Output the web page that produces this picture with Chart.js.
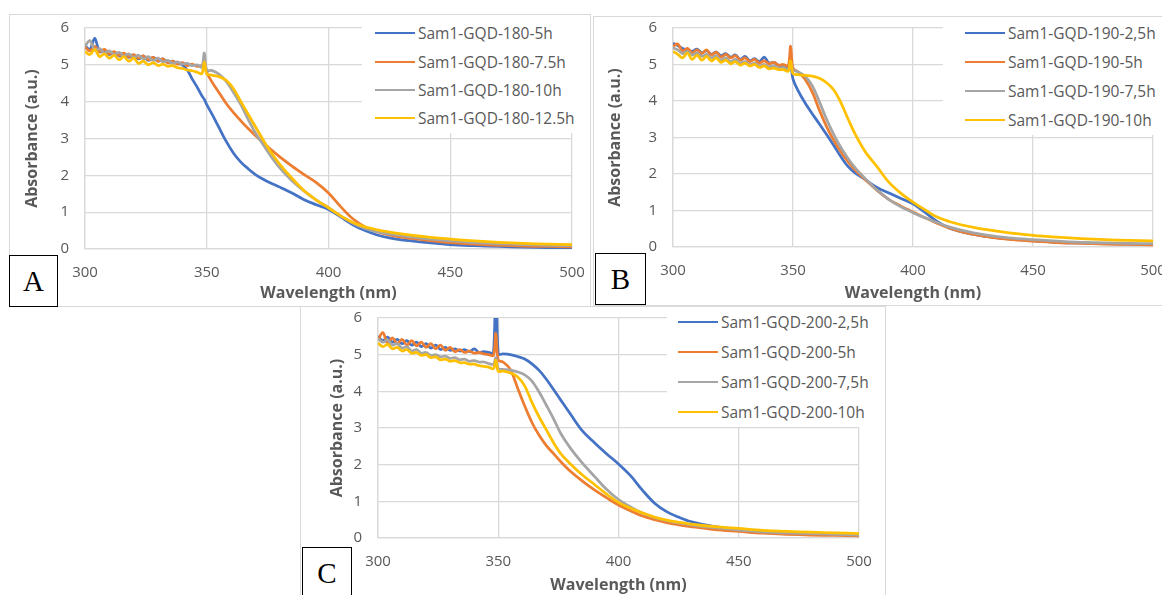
<!DOCTYPE html>
<html>
<head>
<meta charset="utf-8">
<script src="https://cdn.jsdelivr.net/npm/chart.js@4.4.1/dist/chart.umd.min.js"></script>
<style>
  body { margin: 0; background: #fff; width: 1162px; height: 595px; overflow: hidden; position: relative; font-family: "Open Sans", sans-serif; }
  .frame { position: absolute; border: 1px solid #d9d9d9; box-sizing: border-box; }
  canvas { position: absolute; }
  .legend { position: absolute; background: #fff; }
  .item { position: absolute; height: 20px; display: flex; align-items: center; color: #595959; font-size: 15.5px; white-space: nowrap; }
  .swatch { width: 40px; height: 2.75px; margin-right: 3px; }
  .tag { position: absolute; border: 1px solid #000; background: #fff; box-sizing: border-box; font-family: "Liberation Serif", serif; font-size: 29px; display: flex; align-items: center; justify-content: center; color: #000; }
</style>
</head>
<body>
<div class="frame" style="left:9px;top:14px;width:582px;height:293px"></div>
<div class="frame" style="left:593px;top:16px;width:575px;height:290px"></div>
<div class="frame" style="left:300px;top:306px;width:586px;height:300px"></div>
<canvas id="chartA" width="580" height="293" style="left:10px;top:14px"></canvas>
<canvas id="chartB" width="569" height="289" style="left:593px;top:16px"></canvas>
<canvas id="chartC" width="585" height="288" style="left:300px;top:307px"></canvas>
<script>
// wavelength grid (nm) shared by all spectra
const wavelengths = [300,302,304,306,308,310,312,314,316,318,320,322,324,326,328,330,332,334,336,338,340,342,344,346,348,
  349,350,352,355,358,361,364,367,370,373,376,380,385,390,395,400,405,410,415,420,425,430,440,450,460,470,480,490,500];
const wavelengthRange = [300, 500];
const absorbanceRange = [0, 6];

// panel A - 180 C
const namesA = ['Sam1-GQD-180-5h', 'Sam1-GQD-180-7.5h', 'Sam1-GQD-180-10h', 'Sam1-GQD-180-12.5h'];
const gqd180_5h = [5.52,5.42,5.72,5.35,5.38,5.28,5.34,5.24,5.30,5.20,5.26,5.16,5.24,5.12,5.20,5.10,5.16,5.06,5.10,5.04,5.00,4.86,4.62,4.40,4.16,
  4.06,3.92,3.68,3.30,2.92,2.60,2.36,2.18,2.02,1.90,1.80,1.68,1.52,1.34,1.20,1.07,0.87,0.66,0.50,0.38,0.30,0.25,0.18,0.12,0.09,0.07,0.05,0.04,0.03];
const gqd180_7_5h = [5.48,5.38,5.50,5.36,5.42,5.30,5.36,5.26,5.32,5.22,5.28,5.18,5.24,5.14,5.20,5.10,5.16,5.06,5.10,5.02,5.06,4.98,5.02,4.96,4.98,
  5.05,4.80,4.55,4.25,3.95,3.70,3.48,3.27,3.08,2.90,2.72,2.50,2.25,2.02,1.80,1.52,1.15,0.82,0.60,0.47,0.38,0.32,0.24,0.17,0.13,0.10,0.08,0.07,0.06];
const gqd180_10h = [5.50,5.66,5.40,5.44,5.32,5.38,5.28,5.34,5.24,5.30,5.20,5.26,5.16,5.22,5.12,5.18,5.08,5.12,5.04,5.08,5.02,5.04,4.98,5.00,4.94,
  5.32,4.85,4.85,4.75,4.55,4.25,3.92,3.52,3.15,2.85,2.55,2.20,1.85,1.57,1.33,1.12,0.90,0.70,0.56,0.47,0.41,0.36,0.28,0.22,0.17,0.14,0.12,0.10,0.09];
const gqd180_12_5h = [5.36,5.28,5.42,5.22,5.30,5.18,5.26,5.14,5.22,5.10,5.18,5.04,5.10,5.00,5.06,4.98,5.02,4.96,4.98,4.92,4.90,4.86,4.84,4.80,4.76,
  5.08,4.75,4.72,4.68,4.58,4.35,4.00,3.66,3.32,2.98,2.66,2.30,1.92,1.58,1.33,1.12,0.90,0.72,0.60,0.52,0.46,0.41,0.33,0.27,0.22,0.18,0.15,0.13,0.12];

// panel B - 190 C
const namesB = ['Sam1-GQD-190-2,5h', 'Sam1-GQD-190-5h', 'Sam1-GQD-190-7,5h', 'Sam1-GQD-190-10h'];
const gqd190_2_5h = [5.58,5.52,5.44,5.40,5.36,5.42,5.32,5.38,5.28,5.34,5.24,5.30,5.20,5.26,5.14,5.22,5.10,5.16,5.08,5.20,5.04,5.06,4.98,4.96,4.90,
  5.00,4.60,4.30,3.95,3.65,3.37,3.08,2.78,2.47,2.20,2.02,1.85,1.63,1.48,1.33,1.18,0.95,0.70,0.52,0.42,0.35,0.29,0.22,0.17,0.13,0.11,0.09,0.08,0.07];
const gqd190_5h = [5.50,5.56,5.36,5.44,5.32,5.40,5.30,5.40,5.26,5.34,5.20,5.28,5.18,5.24,5.12,5.18,5.08,5.14,5.04,5.10,5.02,5.06,4.98,5.00,4.96,
  5.50,4.90,4.80,4.60,4.25,3.75,3.30,2.92,2.60,2.33,2.10,1.85,1.55,1.30,1.12,0.96,0.80,0.65,0.52,0.42,0.35,0.29,0.21,0.16,0.12,0.10,0.08,0.07,0.06];
const gqd190_7_5h = [5.46,5.40,5.30,5.36,5.26,5.32,5.22,5.28,5.18,5.24,5.12,5.18,5.08,5.14,5.04,5.08,5.00,5.04,4.96,5.00,4.94,4.96,4.90,4.92,4.86,
  5.05,4.85,4.80,4.68,4.42,3.98,3.50,3.08,2.72,2.42,2.16,1.88,1.56,1.30,1.10,0.94,0.80,0.67,0.55,0.46,0.39,0.33,0.25,0.20,0.16,0.13,0.11,0.10,0.09];
const gqd190_10h = [5.36,5.28,5.18,5.32,5.14,5.26,5.12,5.22,5.10,5.18,5.06,5.12,5.02,5.08,4.98,5.04,4.96,5.00,4.92,4.96,4.88,4.90,4.86,4.86,4.82,
  5.10,4.75,4.72,4.70,4.68,4.62,4.50,4.30,3.95,3.50,3.08,2.62,2.20,1.77,1.47,1.23,1.02,0.82,0.70,0.61,0.54,0.48,0.39,0.32,0.27,0.23,0.20,0.18,0.17];

// panel C - 200 C
const namesC = ['Sam1-GQD-200-2,5h', 'Sam1-GQD-200-5h', 'Sam1-GQD-200-7,5h', 'Sam1-GQD-200-10h'];
const gqd200_2_5h = [5.50,5.38,5.48,5.34,5.42,5.30,5.38,5.26,5.34,5.22,5.30,5.18,5.26,5.14,5.20,5.12,5.16,5.10,5.14,5.08,5.16,5.06,5.08,5.06,5.04,
  7.50,5.02,5.02,5.00,4.95,4.88,4.75,4.57,4.33,4.05,3.76,3.38,2.92,2.60,2.30,2.02,1.70,1.30,0.95,0.72,0.57,0.45,0.31,0.23,0.17,0.14,0.12,0.10,0.09];
const gqd200_5h = [5.40,5.60,5.32,5.46,5.30,5.42,5.26,5.38,5.24,5.34,5.20,5.30,5.16,5.26,5.12,5.20,5.08,5.14,5.06,5.10,5.04,5.06,5.02,5.00,4.98,
  5.58,4.85,4.80,4.60,4.10,3.60,3.15,2.80,2.52,2.30,2.08,1.82,1.55,1.31,1.10,0.90,0.74,0.60,0.50,0.42,0.36,0.31,0.23,0.18,0.13,0.10,0.08,0.07,0.06];
const gqd200_7_5h = [5.44,5.34,5.40,5.26,5.30,5.18,5.22,5.10,5.14,5.04,5.06,4.98,5.00,4.94,4.96,4.90,4.92,4.86,4.88,4.82,4.84,4.80,4.80,4.76,4.74,
  4.92,4.62,4.60,4.58,4.53,4.45,4.28,3.98,3.62,3.25,2.85,2.45,2.04,1.68,1.33,1.05,0.85,0.68,0.56,0.47,0.41,0.36,0.28,0.22,0.17,0.14,0.12,0.10,0.08];
const gqd200_10h = [5.32,5.22,5.28,5.16,5.20,5.10,5.14,5.04,5.06,4.98,5.00,4.92,4.94,4.86,4.88,4.82,4.84,4.78,4.78,4.74,4.74,4.70,4.68,4.66,4.62,
  4.85,4.55,4.55,4.50,4.40,4.15,3.70,3.30,2.95,2.60,2.30,2.02,1.72,1.46,1.20,0.97,0.81,0.68,0.57,0.49,0.43,0.38,0.31,0.26,0.21,0.18,0.16,0.14,0.12];

const colors = ['#4472C4', '#ED7D31', '#A5A5A5', '#FFC000'];
const font = '"Open Sans", sans-serif';
const textGrey = '#595959';
const gridGrey = '#d9d9d9';

// per panel layout (px): canvas insets for the plot area and where html bits go
const panels = [
  { id: 'chartA', names: namesA, series: [gqd180_5h, gqd180_7_5h, gqd180_10h, gqd180_12_5h],
    fit: { left: 75, top: 14, right: 18, bottom: 58, yTitle: 12.4, xTitle: 4.4 },
    legend: { left: 362, top: 15, width: 225, height: 118, swatchX: 13, rows: [33, 62, 90, 118] },
    tag: { text: 'A', left: 9, top: 255, width: 49, height: 52 } },
  { id: 'chartB', names: namesB, series: [gqd190_2_5h, gqd190_5h, gqd190_7_5h, gqd190_10h],
    fit: { left: 80, top: 12, right: 9, bottom: 58, yTitle: 12.4, xTitle: 2.4 },
    legend: { left: 943, top: 17, width: 219, height: 118, swatchX: 22, rows: [33, 62, 91, 120] },
    tag: { text: 'B', left: 595, top: 253, width: 51, height: 52 } },
  { id: 'chartC', names: namesC, series: [gqd200_2_5h, gqd200_5h, gqd200_7_5h, gqd200_10h],
    fit: { left: 78, top: 11, right: 26, bottom: 57, yTitle: 27.4, xTitle: 0.4 },
    legend: { left: 667, top: 308, width: 215, height: 119, swatchX: 11, rows: [322, 352, 382, 412] },
    tag: { text: 'C', left: 302, top: 547, width: 50, height: 52 } }
];

panels.forEach(p => {
  const fit = p.fit;
  new Chart(document.getElementById(p.id), {
    type: 'line',
    data: {
      datasets: p.series.map((vals, i) => ({
        label: p.names[i],
        data: wavelengths.map((w, j) => ({ x: w, y: vals[j] })),
        borderColor: colors[i],
        borderWidth: 2.75,
        pointRadius: 0,
        tension: 0.35,
        fill: false,
        order: p.series.length - i
      }))
    },
    options: {
      responsive: false,
      animation: false,
      events: [],
      layout: { padding: { top: fit.top, right: fit.right, left: 0, bottom: 0 } },
      plugins: { legend: { display: false }, tooltip: { enabled: false } },
      scales: {
        x: {
          type: 'linear',
          min: wavelengthRange[0], max: wavelengthRange[1],
          ticks: { stepSize: 50, padding: 15, color: textGrey, font: { family: font, size: 15 } },
          grid: { color: gridGrey, lineWidth: 1.3, drawTicks: false },
          border: { color: gridGrey, width: 1.3 },
          title: { display: true, text: 'Wavelength (nm)', color: textGrey,
            font: { family: font, size: 16, weight: 'bold' }, padding: { top: 0, bottom: fit.xTitle } },
          afterFit: s => { s.height = fit.bottom; s.paddingLeft = 0; s.paddingRight = 0; }
        },
        y: {
          min: absorbanceRange[0], max: absorbanceRange[1],
          ticks: { stepSize: 1, padding: 16, color: textGrey, font: { family: font, size: 15 } },
          grid: { color: gridGrey, lineWidth: 1.3, drawTicks: false },
          border: { color: gridGrey, width: 1.3 },
          title: { display: true, text: 'Absorbance (a.u.)', color: textGrey,
            font: { family: font, size: 16, weight: 'bold' }, padding: { top: fit.yTitle, bottom: 0 } },
          afterFit: s => { s.width = fit.left; s.paddingTop = 0; s.paddingBottom = 0; }
        }
      }
    }
  });

  // legend box sitting over the top-right of the plot
  const lg = p.legend;
  const box = document.createElement('div');
  box.className = 'legend';
  Object.assign(box.style, { left: lg.left + 'px', top: lg.top + 'px', width: lg.width + 'px', height: lg.height + 'px' });
  p.names.forEach((name, i) => {
    const item = document.createElement('div');
    item.className = 'item';
    item.style.left = lg.swatchX + 'px';
    item.style.top = (lg.rows[i] - lg.top - 10) + 'px';
    item.innerHTML = `<span class="swatch" style="background:${colors[i]}"></span><span>${name}</span>`;
    box.appendChild(item);
  });
  document.body.appendChild(box);

  const t = p.tag;
  const tag = document.createElement('div');
  tag.className = 'tag';
  Object.assign(tag.style, { left: t.left + 'px', top: t.top + 'px', width: t.width + 'px', height: t.height + 'px' });
  tag.textContent = t.text;
  document.body.appendChild(tag);
});
</script>
</body>
</html>
